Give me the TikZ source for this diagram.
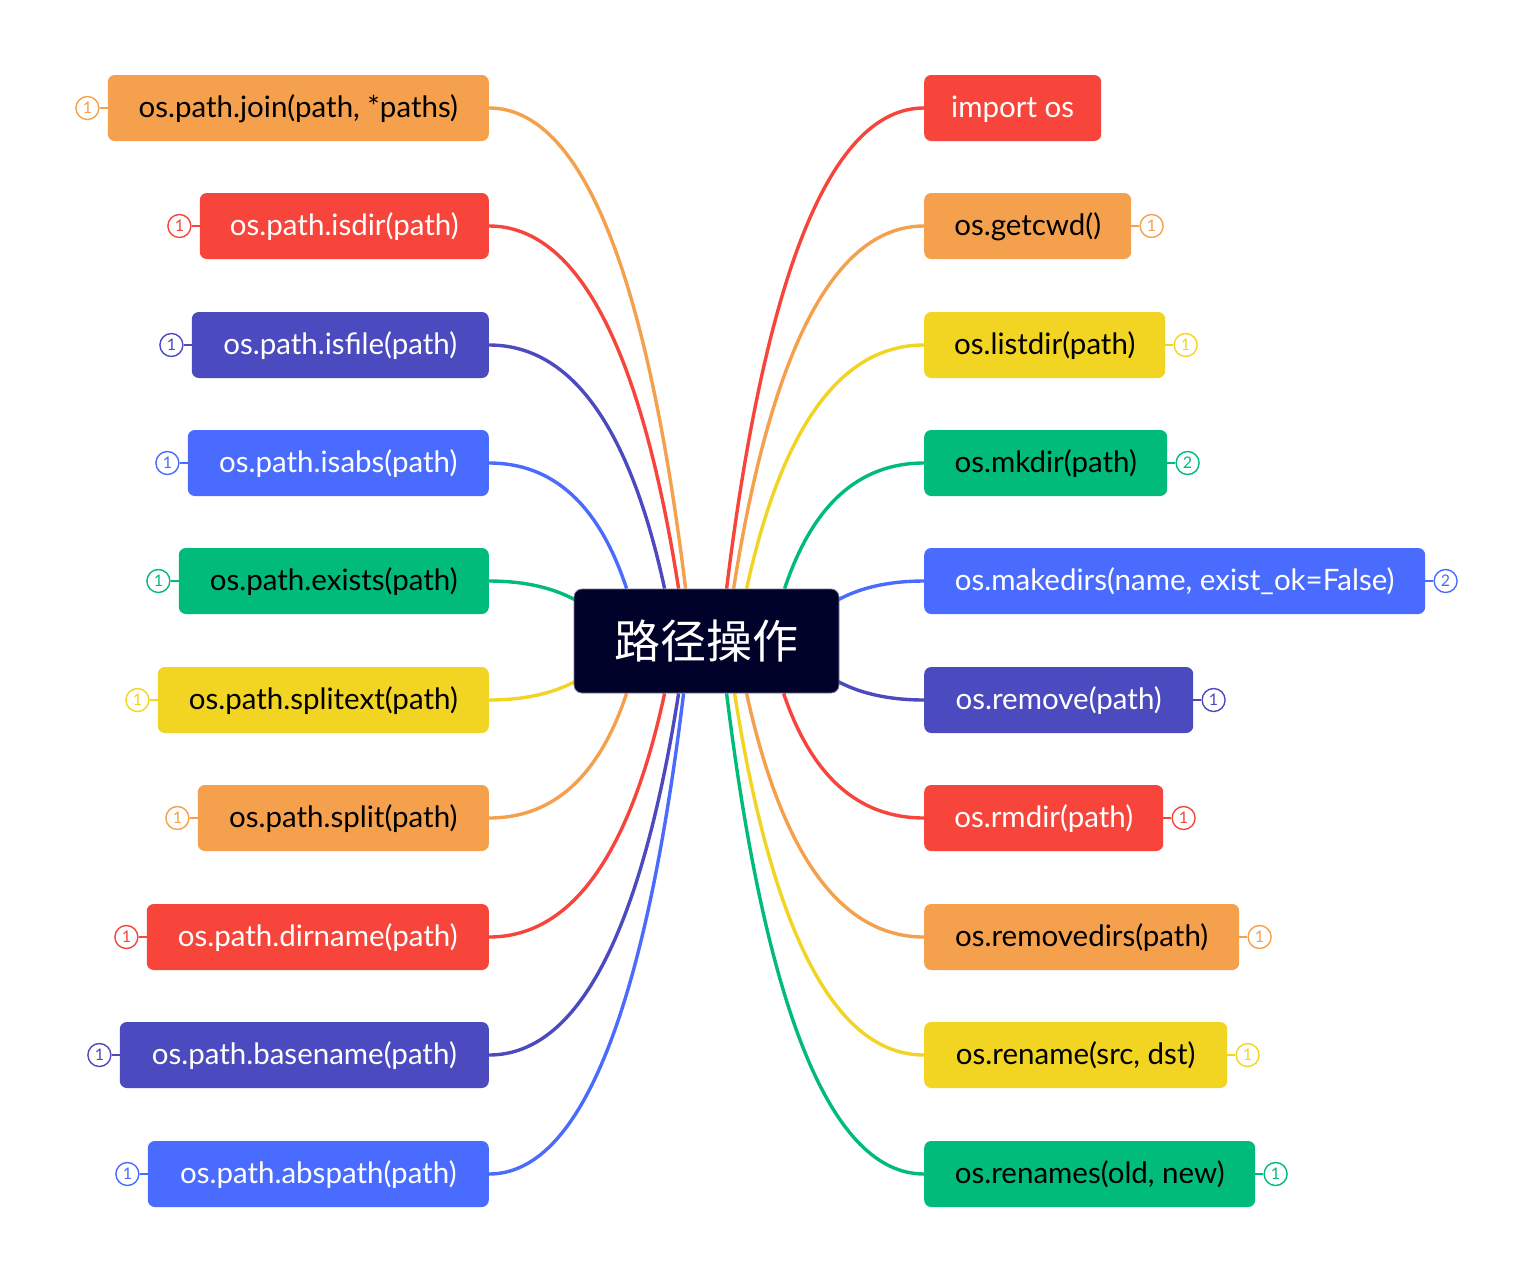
\documentclass[tikz,border=0pt]{standalone}
\usepackage{fontspec}
\setmainfont{Lato}
\newfontfamily\cjkfont{Noto Sans CJK SC}
\usetikzlibrary{calc,positioning}
\definecolor{cOrange}{HTML}{F5A04C}
\definecolor{cRed}{HTML}{F7453C}
\definecolor{cIndigo}{HTML}{4C4ABF}
\definecolor{cBlue}{HTML}{4A6CFE}
\definecolor{cGreen}{HTML}{00BB7A}
\definecolor{cYellow}{HTML}{F2D422}
\definecolor{cNavy}{HTML}{000229}
\pgfdeclarelayer{bg}
\pgfsetlayers{bg,main}
\tikzset{
  topic/.style={rectangle, rounded corners=7pt, minimum height=66pt, inner sep=0pt,
    text height=24pt, text depth=6pt,
    font=\fontsize{29.5}{33}\selectfont},
  lt/.style={topic, anchor=east, minimum width=#1},
  rt/.style={topic, anchor=west, minimum width=#1},
  oBox/.style={fill=cOrange, text=black},
  rBox/.style={fill=cRed, text=white},
  iBox/.style={fill=cIndigo, text=white},
  bBox/.style={fill=cBlue, text=white},
  gBox/.style={fill=cGreen, text=black},
  yBox/.style={fill=cYellow, text=black},
  badge/.style={circle, draw=#1, fill=white, text=#1, line width=1.4pt,
    minimum size=23pt, inner sep=0pt, font=\fontsize{16}{16}\selectfont},
  blink/.style={draw=#1, line width=1.8pt},
  mm/.style={to path={let \p1=(\tikztostart), \p2=(\tikztotarget) in
     .. controls ({\x1+0.4667*(\x2-\x1)},\y1) and ({\x2-0.2*(\x2-\x1)},{\y2+0.6667*(\y1-\y2)}) .. (\tikztotarget)}},
  conn/.style={draw=#1, line width=3.4pt, mm},
}
\begin{document}
\begin{tikzpicture}[x=1pt,y=-1pt]
\useasboundingbox (0,0) rectangle (1533,1282);
\begin{pgfonlayer}{bg}
\fill[white] (0,0) rectangle (1533,1282);
\end{pgfonlayer}

% central topic
\node[fill=cNavy, draw={rgb,255:red,120;green,120;blue,150}, line width=0.8pt, rounded corners=8pt,
  minimum width=265pt, minimum height=104pt, inner sep=0pt, text=white,
  font=\cjkfont\fontsize{46}{50}\selectfont] (c) at (706.5,641) {路径操作};

% left topics
\node[lt=381pt, oBox] (join) at (489,108) {os.path.join(path, *paths)};
\node[lt=289pt, rBox] (isdir) at (489,226) {os.path.isdir(path)};
\node[lt=297pt, iBox] (isfile) at (489,345) {os.path.isfile(path)};
\node[lt=301pt, bBox] (isabs) at (489,463) {os.path.isabs(path)};
\node[lt=310pt, gBox] (exists) at (489,581) {os.path.exists(path)};
\node[lt=331pt, yBox] (splitext) at (489,700) {os.path.splitext(path)};
\node[lt=291pt, oBox] (split) at (489,818) {os.path.split(path)};
\node[lt=342pt, rBox] (dirname) at (489,937) {os.path.dirname(path)};
\node[lt=369pt, iBox] (basename) at (489,1055) {os.path.basename(path)};
\node[lt=341pt, bBox] (abspath) at (489,1174) {os.path.abspath(path)};

% right topics
\node[rt=177pt, rBox] (import) at (924,108) {import os};
\node[rt=207pt, oBox] (getcwd) at (924,226) {os.getcwd()};
\node[rt=241pt, yBox] (listdir) at (924,345) {os.listdir(path)};
\node[rt=243pt, gBox] (mkdir) at (924,463) {os.mkdir(path)};
\node[rt=501pt, bBox] (makedirs) at (924,581) {os.makedirs(name, exist\_ok=False)};
\node[rt=269pt, iBox] (remove) at (924,700) {os.remove(path)};
\node[rt=239pt, rBox] (rmdir) at (924,818) {os.rmdir(path)};
\node[rt=315pt, oBox] (removedirs) at (924,937) {os.removedirs(path)};
\node[rt=303pt, yBox] (rename) at (924,1055) {os.rename(src, dst)};
\node[rt=331pt, gBox] (renames) at (924,1174) {os.renames(old, new)};

% badges left
\node[badge=cOrange, left=8pt of join] (bjoin) {1};
\node[badge=cRed, left=8pt of isdir] (bisdir) {1};
\node[badge=cIndigo, left=8pt of isfile] (bisfile) {1};
\node[badge=cBlue, left=8pt of isabs] (bisabs) {1};
\node[badge=cGreen, left=8pt of exists] (bexists) {1};
\node[badge=cYellow, left=8pt of splitext] (bsplitext) {1};
\node[badge=cOrange, left=8pt of split] (bsplit) {1};
\node[badge=cRed, left=8pt of dirname] (bdirname) {1};
\node[badge=cIndigo, left=8pt of basename] (bbasename) {1};
\node[badge=cBlue, left=8pt of abspath] (babspath) {1};
% badges right
\node[badge=cOrange, right=8pt of getcwd] (bgetcwd) {1};
\node[badge=cYellow, right=8pt of listdir] (blistdir) {1};
\node[badge=cGreen, right=8pt of mkdir] (bmkdir) {2};
\node[badge=cBlue, right=8pt of makedirs] (bmakedirs) {2};
\node[badge=cIndigo, right=8pt of remove] (bremove) {1};
\node[badge=cRed, right=8pt of rmdir] (brmdir) {1};
\node[badge=cOrange, right=8pt of removedirs] (bremovedirs) {1};
\node[badge=cYellow, right=8pt of rename] (brename) {1};
\node[badge=cGreen, right=8pt of renames] (brenames) {1};

% connector end points on the central topic
\coordinate (eJoin) at ($(c.north west)+(112,0)$);
\coordinate (eIsdir) at ($(c.north west)+(105,0)$);
\coordinate (eIsfile) at ($(c.north west)+(91,0)$);
\coordinate (eIsabs) at ($(c.north west)+(53,0)$);
\coordinate (eExists) at ($(c.west)+(46,0)$);
\coordinate (eSplitext) at ($(c.west)+(46,0)$);
\coordinate (eSplit) at ($(c.south west)+(53,0)$);
\coordinate (eDirname) at ($(c.south west)+(91,0)$);
\coordinate (eBasename) at ($(c.south west)+(105,0)$);
\coordinate (eAbspath) at ($(c.south west)+(110,0)$);
\coordinate (eImport) at ($(c.north west)+(153,0)$);
\coordinate (eGetcwd) at ($(c.north west)+(160,0)$);
\coordinate (eListdir) at ($(c.north west)+(173,0)$);
\coordinate (eMkdir) at ($(c.north west)+(211,0)$);
\coordinate (eMakedirs) at ($(c.east)+(-46,0)$);
\coordinate (eRemove) at ($(c.east)+(-46,0)$);
\coordinate (eRmdir) at ($(c.south west)+(210,0)$);
\coordinate (eRemovedirs) at ($(c.south west)+(173,0)$);
\coordinate (eRename) at ($(c.south west)+(161,0)$);
\coordinate (eRenames) at ($(c.south west)+(153,0)$);

\begin{pgfonlayer}{bg}
\draw[conn=cOrange] (join.east) to (eJoin);
\draw[conn=cRed] (isdir.east) to (eIsdir);
\draw[conn=cIndigo] (isfile.east) to (eIsfile);
\draw[conn=cBlue] (isabs.east) to (eIsabs);
\draw[conn=cGreen] (exists.east) to (eExists);
\draw[conn=cYellow] (splitext.east) to (eSplitext);
\draw[conn=cOrange] (split.east) to (eSplit);
\draw[conn=cRed] (dirname.east) to (eDirname);
\draw[conn=cIndigo] (basename.east) to (eBasename);
\draw[conn=cBlue] (abspath.east) to (eAbspath);
\draw[conn=cRed] (import.west) to (eImport);
\draw[conn=cOrange] (getcwd.west) to (eGetcwd);
\draw[conn=cYellow] (listdir.west) to (eListdir);
\draw[conn=cGreen] (mkdir.west) to (eMkdir);
\draw[conn=cBlue] (makedirs.west) to (eMakedirs);
\draw[conn=cIndigo] (remove.west) to (eRemove);
\draw[conn=cRed] (rmdir.west) to (eRmdir);
\draw[conn=cOrange] (removedirs.west) to (eRemovedirs);
\draw[conn=cYellow] (rename.west) to (eRename);
\draw[conn=cGreen] (renames.west) to (eRenames);
% badge links
\draw[blink=cOrange] (join.west) -- (bjoin);
\draw[blink=cRed] (isdir.west) -- (bisdir);
\draw[blink=cIndigo] (isfile.west) -- (bisfile);
\draw[blink=cBlue] (isabs.west) -- (bisabs);
\draw[blink=cGreen] (exists.west) -- (bexists);
\draw[blink=cYellow] (splitext.west) -- (bsplitext);
\draw[blink=cOrange] (split.west) -- (bsplit);
\draw[blink=cRed] (dirname.west) -- (bdirname);
\draw[blink=cIndigo] (basename.west) -- (bbasename);
\draw[blink=cBlue] (abspath.west) -- (babspath);
\draw[blink=cOrange] (getcwd.east) -- (bgetcwd);
\draw[blink=cYellow] (listdir.east) -- (blistdir);
\draw[blink=cGreen] (mkdir.east) -- (bmkdir);
\draw[blink=cBlue] (makedirs.east) -- (bmakedirs);
\draw[blink=cIndigo] (remove.east) -- (bremove);
\draw[blink=cRed] (rmdir.east) -- (brmdir);
\draw[blink=cOrange] (removedirs.east) -- (bremovedirs);
\draw[blink=cYellow] (rename.east) -- (brename);
\draw[blink=cGreen] (renames.east) -- (brenames);
\end{pgfonlayer}
\end{tikzpicture}
\end{document}
